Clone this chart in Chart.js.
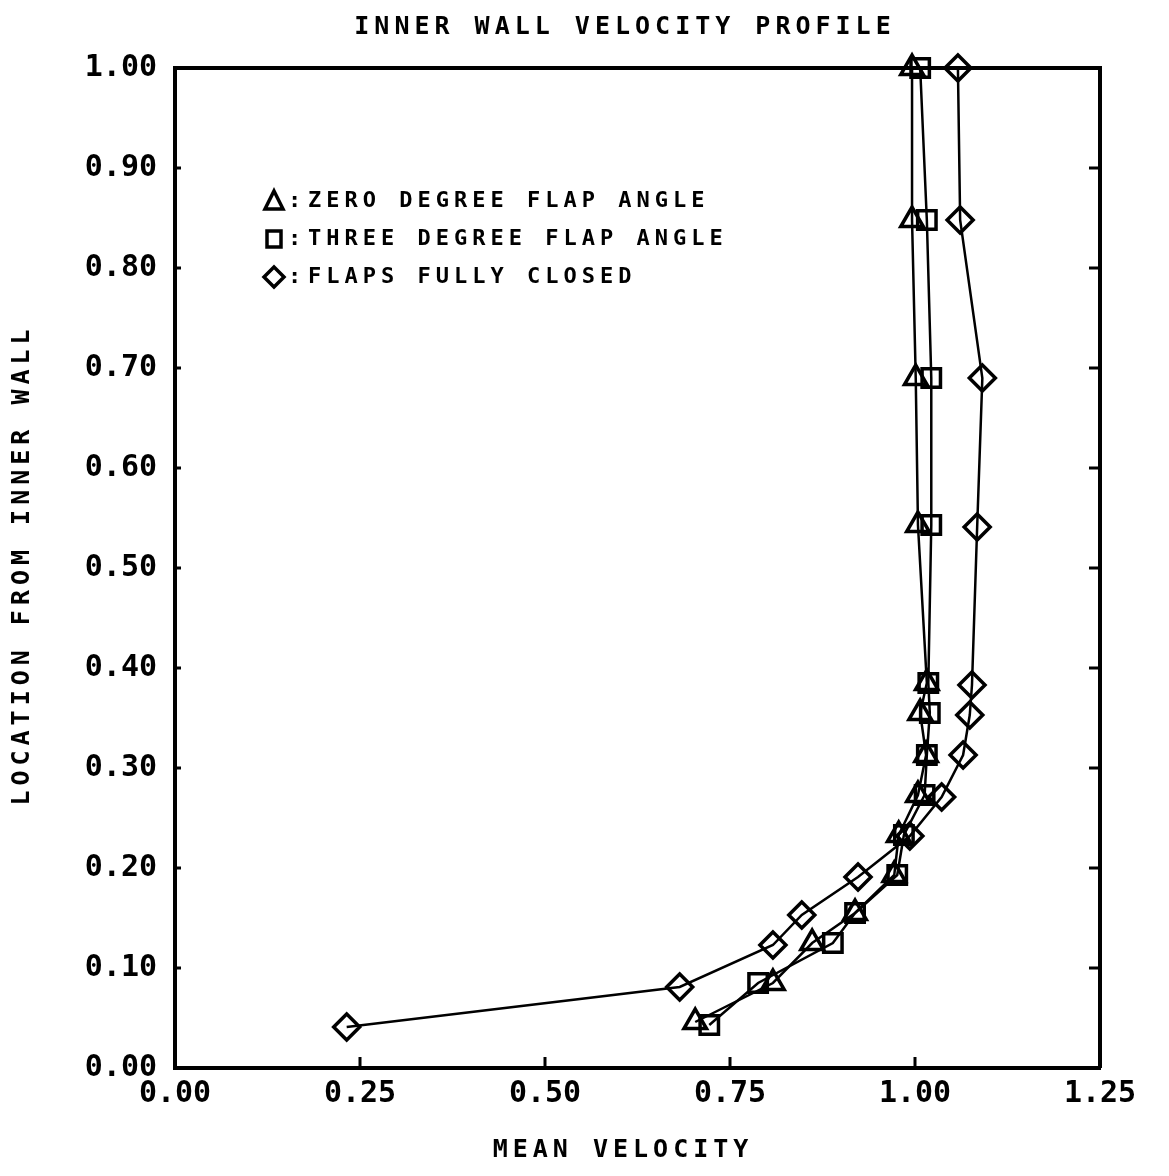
<!DOCTYPE html>
<html>
<head>
<meta charset="utf-8">
<script src="https://cdn.jsdelivr.net/npm/chart.js@4/dist/chart.umd.min.js"></script>
<style>
  html, body { margin: 0; padding: 0; background: #fff; }
</style>
</head>
<body>
<canvas id="myChart" width="1169" height="1176"></canvas>
<script>
// data (x = mean velocity, y = location from inner wall)
const zeroVel = [0.703, 0.808, 0.861, 0.919, 0.972, 0.978, 1.004, 1.015, 1.007, 1.016, 1.004, 1.001, 0.996, 0.996];
const zeroLoc = [0.046, 0.085, 0.125, 0.155, 0.193, 0.233, 0.273, 0.313, 0.355, 0.385, 0.543, 0.690, 0.848, 1.000];
const threeVel = [0.722, 0.788, 0.889, 0.919, 0.976, 0.985, 1.013, 1.016, 1.020, 1.018, 1.022, 1.022, 1.016, 1.007];
const threeLoc = [0.043, 0.085, 0.125, 0.155, 0.193, 0.233, 0.273, 0.313, 0.355, 0.385, 0.543, 0.690, 0.848, 1.000];
const closedVel = [0.232, 0.682, 0.808, 0.847, 0.923, 0.993, 1.036, 1.065, 1.074, 1.077, 1.084, 1.091, 1.061, 1.058];
const closedLoc = [0.041, 0.081, 0.123, 0.153, 0.191, 0.232, 0.271, 0.313, 0.353, 0.383, 0.541, 0.690, 0.848, 1.000];

const xTicks = [0, 0.25, 0.5, 0.75, 1.0, 1.25];
const yTicks = [0, 0.1, 0.2, 0.3, 0.4, 0.5, 0.6, 0.7, 0.8, 0.9, 1.0];

const seriesNames = ['ZERO DEGREE FLAP ANGLE', 'THREE DEGREE FLAP ANGLE', 'FLAPS FULLY CLOSED'];
const seriesMarkers = ['triangle', 'rect', 'rectRot'];

const pts = (xs, ys) => xs.map((x, i) => ({ x: x, y: ys[i] }));

function dataset(name, marker, xs, ys) {
  return {
    label: name,
    data: pts(xs, ys),
    showLine: true,
    borderColor: '#000',
    borderWidth: 2.5,
    pointStyle: marker,
    pointRadius: 13,
    pointBorderWidth: 3.5,
    pointBorderColor: '#000',
    pointBackgroundColor: 'rgba(0,0,0,0)',
    clip: false
  };
}

// titles, legend, frame and inward tick marks
const decor = {
  id: 'decor',
  afterDraw(chart) {
    const ctx = chart.ctx;
    const a = chart.chartArea;
    const xs = chart.scales.x, ys = chart.scales.y;
    ctx.save();
    ctx.strokeStyle = '#000';
    ctx.fillStyle = '#000';
    ctx.lineWidth = 4;
    ctx.beginPath();
    ctx.moveTo(a.left, a.top); ctx.lineTo(a.right, a.top); ctx.lineTo(a.right, a.bottom);
    ctx.stroke();

    ctx.lineWidth = 3;
    ctx.beginPath();
    yTicks.forEach(v => {
      const py = ys.getPixelForValue(v);
      if (v > 0 && v < 1) {
        ctx.moveTo(a.right, py); ctx.lineTo(a.right - 11, py);
        ctx.moveTo(a.left, py); ctx.lineTo(a.left + 6, py);
      }
    });
    xTicks.forEach(v => {
      const px = xs.getPixelForValue(v);
      if (v > 0 && v < 1.25) { ctx.moveTo(px, a.bottom); ctx.lineTo(px, a.bottom - 11); }
    });
    ctx.stroke();

    // titles
    ctx.textBaseline = 'middle';
    ctx.textAlign = 'center';
    ctx.font = 'bold 25px "DejaVu Sans Mono"';
    ctx.letterSpacing = '5px';
    ctx.fillText('INNER WALL VELOCITY PROFILE', 625, 27);
    ctx.fillText('MEAN VELOCITY', 623, 1150);
    ctx.save();
    ctx.translate(22, 565);
    ctx.rotate(-Math.PI / 2);
    ctx.fillText('LOCATION FROM INNER WALL', 0, 0);
    ctx.restore();

    // legend
    const rows = [201, 239, 277];
    ctx.textAlign = 'left';
    ctx.font = 'bold 22px "DejaVu Sans Mono"';
    ctx.letterSpacing = '5px';
    ctx.lineWidth = 3.5;
    seriesNames.forEach((name, i) => {
      const cy = rows[i], cx = 274;
      ctx.beginPath();
      if (seriesMarkers[i] === 'triangle') {
        ctx.moveTo(cx, cy - 10); ctx.lineTo(cx + 9, cy + 8); ctx.lineTo(cx - 9, cy + 8); ctx.closePath();
      } else if (seriesMarkers[i] === 'rect') {
        ctx.rect(cx - 7, cy - 8, 14, 16);
      } else {
        ctx.moveTo(cx, cy - 10); ctx.lineTo(cx + 10, cy); ctx.lineTo(cx, cy + 10); ctx.lineTo(cx - 10, cy); ctx.closePath();
      }
      ctx.stroke();
      ctx.fillText(':', 288, cy);
      ctx.fillText(name, 308, cy);
    });
    ctx.restore();
  }
};

const ctx = document.getElementById('myChart').getContext('2d');
const tickFont = { family: '"DejaVu Sans Mono"', size: 30, weight: 'bold' };

const myChart = new Chart(ctx, {
  type: 'scatter',
  data: {
    datasets: [
      dataset(seriesNames[0], seriesMarkers[0], zeroVel, zeroLoc),
      dataset(seriesNames[1], seriesMarkers[1], threeVel, threeLoc),
      dataset(seriesNames[2], seriesMarkers[2], closedVel, closedLoc)
    ]
  },
  options: {
    responsive: false,
    animation: false,
    layout: { padding: { top: 68, right: 69, left: 0, bottom: 0 } },
    plugins: {
      legend: { display: false },
      tooltip: { enabled: false }
    },
    scales: {
      x: {
        type: 'linear',
        min: 0,
        max: 1.25,
        afterBuildTicks: s => { s.ticks = xTicks.map(v => ({ value: v })); },
        afterFit: s => { s.height = 108; },
        grid: { display: false, drawTicks: false },
        border: { display: true, color: '#000', width: 4 },
        ticks: {
          color: '#000',
          font: tickFont,
          padding: 8,
          maxRotation: 0,
          callback: v => v.toFixed(2)
        }
      },
      y: {
        type: 'linear',
        min: 0,
        max: 1,
        afterBuildTicks: s => { s.ticks = yTicks.map(v => ({ value: v })); },
        afterFit: s => { s.width = 175; },
        grid: { display: false, drawTicks: false },
        border: { display: true, color: '#000', width: 4 },
        ticks: {
          color: '#000',
          font: tickFont,
          padding: 18,
          callback: v => v.toFixed(2)
        }
      }
    }
  },
  plugins: [decor]
});
</script>
</body>
</html>
